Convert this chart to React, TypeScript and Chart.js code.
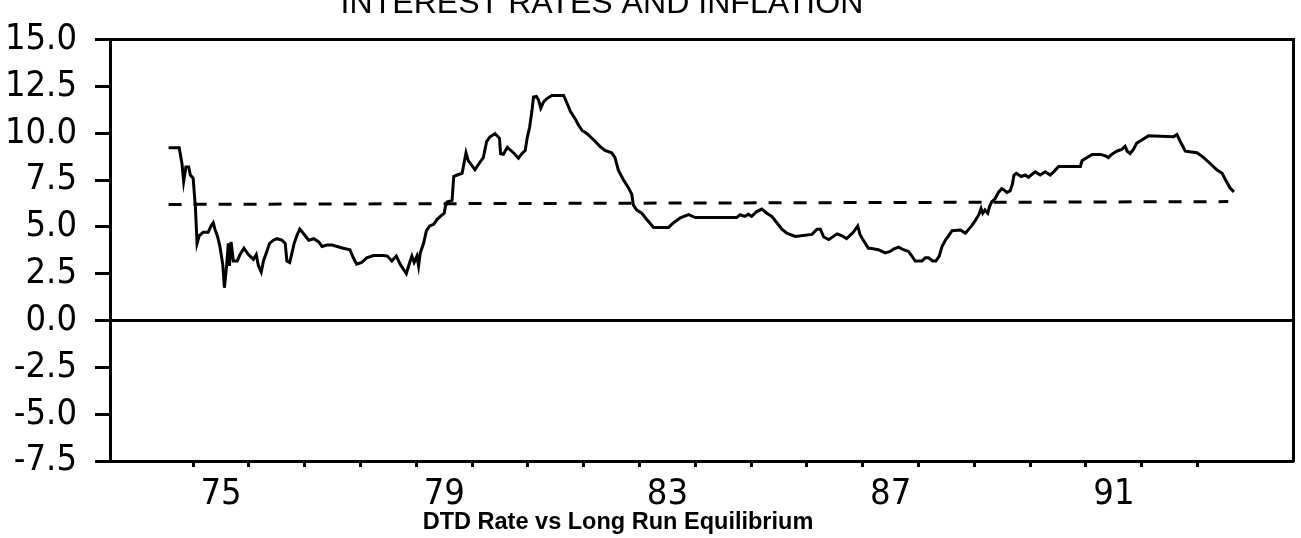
import { useEffect, useRef } from 'react';
import { Chart, registerables } from 'chart.js';

Chart.register(...registerables);

// ---- data (decimal years, percent) ----
const dates = [
  1974.56, 1974.75, 1974.80, 1974.83, 1974.87, 1974.92, 1974.95, 1975.00, 1975.04, 1975.07,
  1975.11, 1975.18, 1975.27, 1975.32, 1975.36, 1975.39, 1975.44, 1975.48, 1975.53, 1975.56,
  1975.60, 1975.63, 1975.65, 1975.68, 1975.72, 1975.79, 1975.84, 1975.91, 1975.99, 1976.08,
  1976.13, 1976.17, 1976.22, 1976.26, 1976.32, 1976.37, 1976.44, 1976.50, 1976.59, 1976.65,
  1976.68, 1976.73, 1976.77, 1976.81, 1976.86, 1976.91, 1976.98, 1977.07, 1977.16, 1977.25,
  1977.31, 1977.40, 1977.49, 1977.58, 1977.69, 1977.81, 1977.87, 1977.93, 1978.02, 1978.11,
  1978.23, 1978.41, 1978.48, 1978.56, 1978.64, 1978.71, 1978.82, 1978.88, 1978.92, 1978.96,
  1979.01, 1979.04, 1979.07, 1979.13, 1979.18, 1979.24, 1979.31, 1979.37, 1979.43, 1979.50,
  1979.52, 1979.55, 1979.64, 1979.67, 1979.73, 1979.82, 1979.89, 1979.93, 1980.05, 1980.14,
  1980.20, 1980.26, 1980.32, 1980.41, 1980.49, 1980.51, 1980.56, 1980.63, 1980.74, 1980.83,
  1980.89, 1980.95, 1980.99, 1981.03, 1981.07, 1981.10, 1981.15, 1981.19, 1981.23, 1981.28,
  1981.34, 1981.43, 1981.64, 1981.70, 1981.76, 1981.85, 1981.91, 1981.97, 1982.06, 1982.18,
  1982.29, 1982.38, 1982.50, 1982.56, 1982.62, 1982.71, 1982.80, 1982.86, 1982.89, 1982.95,
  1983.04, 1983.13, 1983.25, 1983.52, 1983.61, 1983.73, 1983.88, 1984.00, 1984.74, 1984.80,
  1984.89, 1984.95, 1985.01, 1985.10, 1985.19, 1985.28, 1985.37, 1985.46, 1985.55, 1985.64,
  1985.79, 1986.09, 1986.18, 1986.24, 1986.30, 1986.39, 1986.54, 1986.62, 1986.71, 1986.83,
  1986.91, 1986.95, 1987.01, 1987.10, 1987.13, 1987.28, 1987.40, 1987.49, 1987.55, 1987.64,
  1987.73, 1987.82, 1987.88, 1987.94, 1988.06, 1988.12, 1988.18, 1988.25, 1988.31, 1988.37,
  1988.42, 1988.48, 1988.54, 1988.60, 1988.75, 1988.84, 1988.90, 1988.95, 1989.01, 1989.08,
  1989.12, 1989.15, 1989.19, 1989.24, 1989.27, 1989.31, 1989.37, 1989.43, 1989.49, 1989.53,
  1989.58, 1989.64, 1989.68, 1989.71, 1989.75, 1989.84, 1989.91, 1989.97, 1990.03, 1990.09,
  1990.18, 1990.27, 1990.36, 1990.42, 1990.51, 1990.90, 1990.93, 1991.02, 1991.11, 1991.26,
  1991.35, 1991.40, 1991.46, 1991.55, 1991.64, 1991.70, 1991.74, 1991.79, 1991.85, 1991.91,
  1992.00, 1992.12, 1992.57, 1992.63, 1992.69, 1992.78, 1992.99, 1993.11, 1993.23, 1993.35,
  1993.44, 1993.50, 1993.58, 1993.65,
];

const rates = [
  9.22, 9.22, 8.37, 7.43, 8.20, 8.20, 7.77, 7.60, 6.07, 4.12,
  4.54, 4.71, 4.71, 5.05, 5.22, 4.88, 4.46, 3.95, 3.01, 1.75,
  2.92, 4.12, 2.92, 4.20, 3.18, 3.18, 3.52, 3.86, 3.52, 3.27,
  3.52, 2.92, 2.59, 3.18, 3.69, 4.12, 4.29, 4.37, 4.29, 4.12,
  3.18, 3.10, 3.60, 4.12, 4.54, 4.88, 4.63, 4.29, 4.37, 4.20,
  3.95, 4.03, 4.03, 3.95, 3.86, 3.78, 3.35, 3.01, 3.10, 3.35,
  3.47, 3.47, 3.44, 3.18, 3.44, 3.01, 2.50, 3.10, 3.44, 3.10,
  3.44, 2.92, 3.61, 4.12, 4.80, 5.05, 5.14, 5.39, 5.56, 5.73,
  6.07, 6.33, 6.41, 7.69, 7.77, 7.86, 8.96, 8.54, 8.06, 8.45,
  8.70, 9.56, 9.81, 9.98, 9.73, 8.91, 8.88, 9.25, 8.96, 8.67,
  8.91, 9.08, 9.81, 10.32, 11.17, 11.94, 11.97, 11.77, 11.34, 11.68,
  11.85, 12.02, 12.02, 11.60, 11.17, 10.75, 10.41, 10.15, 9.98, 9.64,
  9.30, 9.08, 8.96, 8.70, 8.03, 7.52, 7.09, 6.75, 6.16, 5.90,
  5.73, 5.39, 4.97, 4.97, 5.22, 5.48, 5.65, 5.50, 5.50, 5.65,
  5.56, 5.68, 5.56, 5.82, 5.95, 5.73, 5.56, 5.22, 4.88, 4.66,
  4.49, 4.60, 4.88, 4.88, 4.46, 4.32, 4.63, 4.54, 4.37, 4.71,
  5.05, 4.60, 4.29, 3.86, 3.86, 3.78, 3.61, 3.69, 3.81, 3.92,
  3.78, 3.69, 3.44, 3.18, 3.18, 3.35, 3.35, 3.18, 3.18, 3.44,
  3.95, 4.29, 4.54, 4.80, 4.83, 4.66, 4.88, 5.05, 5.31, 5.65,
  5.98, 5.73, 5.90, 5.73, 6.07, 6.33, 6.50, 6.84, 7.04, 6.97,
  6.84, 6.92, 7.26, 7.77, 7.86, 7.69, 7.77, 7.65, 7.80, 7.94,
  7.77, 7.94, 7.77, 7.94, 8.23, 8.23, 8.54, 8.70, 8.87, 8.87,
  8.79, 8.70, 8.87, 9.04, 9.13, 9.30, 9.04, 8.91, 9.13, 9.47,
  9.64, 9.86, 9.81, 9.93, 9.56, 9.04, 8.96, 8.70, 8.37, 8.03,
  7.86, 7.52, 7.09, 6.87,
];

const equilibriumDates = [1974.56, 1993.55];
const equilibriumRates = [6.2, 6.35];

// yearly tick marks (year boundaries) and labelled years (label at mid-year)
const tickYears = [
  1975, 1976, 1977, 1978, 1979, 1980, 1981, 1982, 1983, 1984,
  1985, 1986, 1987, 1988, 1989, 1990, 1991, 1992, 1993,
];
const labelYears = [1975, 1979, 1983, 1987, 1991];

const titleText = 'INTEREST RATES AND INFLATION';
const captionText = 'DTD Rate vs Long Run Equilibrium';

const TICK_FONT = "'Liberation Sans Narrow', 'DejaVu Sans Condensed', 'Roboto Condensed', Roboto, sans-serif";
const TITLE_FONT = "'Liberation Sans', Arial, Roboto, sans-serif";
const CAPTION_FONT = "'Liberation Sans', Arial, Roboto, sans-serif";

function drawFitted(ctx: CanvasRenderingContext2D, text: string, cx: number, baseline: number, width: number, weight: string, family: string) {
  ctx.font = `${weight} 100px ${family}`;
  const w = ctx.measureText(text).width;
  const size = (100 * width) / w;
  ctx.font = `${weight} ${size}px ${family}`;
  ctx.fillText(text, cx, baseline);
}

const textPlugin = {
  id: 'chartTexts',
  afterDraw(chart: any) {
    const ctx: CanvasRenderingContext2D = chart.ctx;
    ctx.save();
    ctx.fillStyle = '#000';
    ctx.textAlign = 'center';
    ctx.textBaseline = 'alphabetic';
    drawFitted(ctx, titleText, 602, 13, 523, 'normal', TITLE_FONT);
    drawFitted(ctx, captionText, 618, 529, 391, 'bold', CAPTION_FONT);
    ctx.restore();
  },
};

export default function App() {
  const canvasRef = useRef<HTMLCanvasElement | null>(null);

  useEffect(() => {
    const canvas = canvasRef.current;
    if (!canvas) return;

    const series = dates.map((d, i) => ({ x: d, y: rates[i] }));
    const equilibrium = equilibriumDates.map((d, i) => ({ x: d, y: equilibriumRates[i] }));
    const labelPositions = labelYears.map((y) => y + 0.5);

    const chart = new Chart(canvas, {
      type: 'line',
      data: {
        datasets: [
          {
            label: 'DTD Rate',
            data: series,
            borderColor: '#000',
            borderWidth: 3,
            pointRadius: 0,
            tension: 0,
            fill: false,
          },
          {
            label: 'Long Run Equilibrium',
            data: equilibrium,
            borderColor: '#000',
            borderWidth: 3,
            borderDash: [13, 12],
            pointRadius: 0,
            fill: false,
          },
        ],
      },
      options: {
        responsive: false,
        animation: false,
        devicePixelRatio: 1,
        layout: { padding: 0 },
        plugins: {
          legend: { display: false },
          tooltip: { enabled: false },
          title: { display: false },
        },
        scales: {
          x: {
            type: 'linear',
            position: 'bottom',
            min: 1973.51,
            max: 1994.71,
            afterBuildTicks: (scale: any) => {
              const vals = [...tickYears, ...labelPositions].sort((a, b) => a - b);
              scale.ticks = vals.map((v) => ({ value: v }));
            },
            afterFit: (scale: any) => {
              scale.height = 77;
            },
            ticks: {
              autoSkip: false,
              maxRotation: 0,
              minRotation: 0,
              padding: 6,
              color: '#000',
              font: { family: TICK_FONT, size: 36 },
              callback: (value: any) => {
                const v = Number(value);
                const idx = labelPositions.findIndex((p) => Math.abs(p - v) < 1e-6);
                return idx >= 0 ? String(labelYears[idx]).slice(2) : '';
              },
            },
            grid: {
              drawOnChartArea: false,
              drawTicks: true,
              tickLength: 6,
              tickWidth: 3,
              tickColor: (ctx: any) => (ctx.tick && Number.isInteger(ctx.tick.value) ? '#000' : 'rgba(0,0,0,0)'),
            },
            border: { display: true, color: '#000', width: 3 },
          },
          xTop: {
            type: 'linear',
            position: 'top',
            display: true,
            min: 0,
            max: 1,
            afterFit: (scale: any) => {
              scale.height = 20;
            },
            ticks: { display: false },
            grid: { drawOnChartArea: false, drawTicks: false },
            border: { display: true, color: '#000', width: 3 },
          },
          y: {
            type: 'linear',
            position: 'left',
            min: -7.5,
            max: 15,
            afterFit: (scale: any) => {
              scale.width = 110;
            },
            ticks: {
              stepSize: 2.5,
              padding: 18,
              color: '#000',
              font: { family: TICK_FONT, size: 36 },
              callback: (value: any) => Number(value).toFixed(1),
            },
            grid: {
              drawOnChartArea: true,
              drawTicks: true,
              tickLength: 15,
              tickWidth: 3,
              tickColor: '#000',
              lineWidth: 3,
              color: (ctx: any) => (ctx.tick && Math.abs(ctx.tick.value) < 1e-9 ? '#000' : 'rgba(0,0,0,0)'),
            },
            border: { display: true, color: '#000', width: 3 },
          },
          yRight: {
            type: 'linear',
            position: 'right',
            display: true,
            min: 0,
            max: 1,
            afterFit: (scale: any) => {
              scale.width = 8;
            },
            ticks: { display: false },
            grid: { drawOnChartArea: false, drawTicks: false },
            border: { display: true, color: '#000', width: 3 },
          },
        },
      },
      plugins: [textPlugin],
    } as any);

    return () => {
      chart.destroy();
    };
  }, []);

  return (
    <div style={{ position: 'fixed', left: 0, top: 0, width: 1301, height: 538, background: '#fff' }}>
      <canvas ref={canvasRef} width={1301} height={538} style={{ display: 'block' }} />
    </div>
  );
}
